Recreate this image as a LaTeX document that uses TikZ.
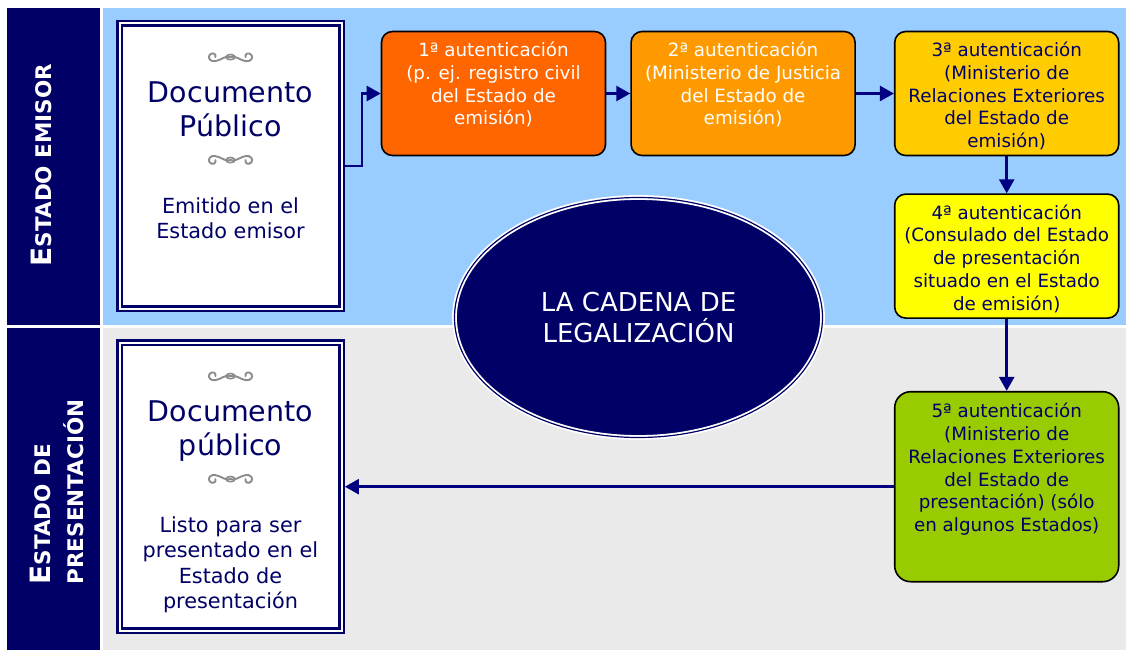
\documentclass[tikz,border=0pt]{standalone}
\usepackage{fontspec}
\setmainfont{DejaVu Sans}
\usetikzlibrary{positioning,shapes.geometric,arrows.meta}
\definecolor{docnavy}{HTML}{000066}
\definecolor{flownavy}{HTML}{000080}
\definecolor{emisorblue}{HTML}{99CCFF}
\definecolor{presgray}{HTML}{EAEAEA}
\definecolor{authA}{HTML}{FF6600}
\definecolor{authB}{HTML}{FF9900}
\definecolor{authC}{HTML}{FFCC00}
\definecolor{authD}{HTML}{FFFF00}
\definecolor{authE}{HTML}{99CC00}
\definecolor{curlgray}{HTML}{8C8C8C}
\tikzset{flourish/.pic={
	\draw[curlgray, line width=1.9pt, line cap=round]
	(-15,0) .. controls (-14,-4) and (-19,-5) .. (-21,-2)
	.. controls (-23,1) and (-20,5) .. (-15,4)
	.. controls (-9,3) and (-5,-2) .. (0,0)
	.. controls (5,-2) and (9,3) .. (15,4)
	.. controls (20,5) and (23,1) .. (21,-2)
	.. controls (19,-5) and (14,-4) .. (15,0);
	\draw[curlgray, line width=1.6pt] (0,0) ellipse [x radius=4.5, y radius=2.6];
}}
\begin{document}
\begin{tikzpicture}
	[x=1pt, y=-1pt,
	docbox/.style = {draw=docnavy, double=white, double distance=2pt, line width=2.4pt, fill=white, minimum width=222pt, outer sep=3.4pt},
	authbox/.style = {draw=black, line width=1.6pt, rounded corners=11pt, minimum width=224pt, minimum height=124pt},
	authtext/.style = {align=center, inner sep=0pt, font=\fontsize{18.3}{22.8}\selectfont},
	doctitle/.style = {align=center, inner sep=0pt, text=docnavy, font=\fontsize{28.5}{34.5}\selectfont},
	docnote/.style = {align=center, inner sep=0pt, text=docnavy, font=\fontsize{20.8}{25.5}\selectfont},
	lane/.style = {rotate=90, align=left, inner sep=0pt, text=white, font=\bfseries\fontsize{21.5}{33}\selectfont},
	flow/.style = {draw=flownavy, line width=2.6pt, -{Triangle[length=14pt,width=15pt]}}]
\useasboundingbox (0,0) rectangle (1126,650);
\fill[white] (0,0) rectangle (1126,650);
% lanes
\fill[docnavy] (7,8) rectangle (100,325);
\fill[docnavy] (7,328) rectangle (100,650);
\fill[emisorblue] (103,8) rectangle (1126,325);
\fill[presgray] (103,328) rectangle (1126,650);
\node[lane] (emisor) at (41,165) {{\fontsize{28}{33}\selectfont E}STADO EMISOR};
\node[lane] (presenta) at (57,492) {{\fontsize{28}{33}\selectfont E}STADO DE\\PRESENTACIÓN};
% documents
\node[docbox, minimum height=285pt] (doc1) at (230.5,166) {};
\node[docbox, minimum height=288pt] (doc2) at (230.5,486.5) {};
\pic at ([yshift=-37pt]doc1.north) {flourish};
\node[doctitle, below=61pt of doc1.north] (doc1title) {Documento\\Público};
\pic[yscale=-1] at ([yshift=-140pt]doc1.north) {flourish};
\node[docnote, below=177pt of doc1.north] (doc1note) {Emitido en el\\Estado emisor};
\pic at ([yshift=-37pt]doc2.north) {flourish};
\node[doctitle, below=61pt of doc2.north] (doc2title) {Documento\\público};
\pic[yscale=-1] at ([yshift=-140pt]doc2.north) {flourish};
\node[docnote, below=177pt of doc2.north] (doc2note) {Listo para ser\\presentado en el\\Estado de\\presentación};
% ellipse
\node[ellipse, fill=docnavy, draw=white, double=docnavy, double distance=1.2pt, line width=1.8pt,
	minimum width=368pt, minimum height=240pt, text=white, align=center,
	font=\fontsize{26}{31.5}\selectfont] (chain) at (638.5,317.5) {LA CADENA DE\\LEGALIZACIÓN};
% authentications
\node[authbox, fill=authA] (auth1) at (493.5,93.5) {};
\node[authbox, fill=authB, right=24pt of auth1] (auth2) {};
\node[authbox, fill=authC, right=38pt of auth2] (auth3) {};
\node[authbox, fill=authD, below=37pt of auth3] (auth4) {};
\node[authbox, fill=authE, minimum height=190pt, rounded corners=16pt, below=72pt of auth4] (auth5) {};
\node[authtext, text=white, below=11pt of auth1.north] (auth1txt) {1ª autenticación\\(p. ej. registro civil\\del Estado de\\emisión)};
\node[authtext, text=white, below=11pt of auth2.north] (auth2txt) {2ª autenticación\\(Ministerio de Justicia\\del Estado de\\emisión)};
\node[authtext, text=docnavy, below=11pt of auth3.north] (auth3txt) {3ª autenticación\\(Ministerio de\\Relaciones Exteriores\\del Estado de\\emisión)};
\node[authtext, text=docnavy, below=11pt of auth4.north] (auth4txt) {4ª autenticación\\(Consulado del Estado\\de presentación\\situado en el Estado\\de emisión)};
\node[authtext, text=docnavy, below=12pt of auth5.north] (auth5txt) {5ª autenticación\\(Ministerio de\\Relaciones Exteriores\\del Estado de\\presentación) (sólo\\en algunos Estados)};
% chain of arrows
\draw[flow] (doc1.east) -- ++(17,0) |- (auth1.west);
\draw[flow] (auth1) -- (auth2);
\draw[flow] (auth2) -- (auth3);
\draw[flow] (auth3) -- (auth4);
\draw[flow] (auth4) -- (auth5);
\draw[flow] (auth5.west) -- (auth5.west -| doc2.east);
\end{tikzpicture}
\end{document}
